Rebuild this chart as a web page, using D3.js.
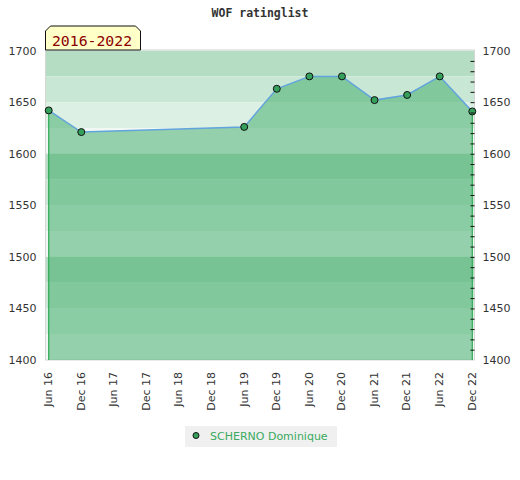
<!DOCTYPE html>
<html>
<head>
<meta charset="utf-8">
<script src="https://cdn.jsdelivr.net/npm/d3@7"></script>
<style>
  body { margin: 0; background: #fff; }
  svg { display: block; font-family: "DejaVu Sans", sans-serif; }
</style>
</head>
<body>
<svg id="chart"></svg>
<script>
// tick labels along the x axis (half-year steps)
var periods = ["Jun 16", "Dec 16", "Jun 17", "Dec 17", "Jun 18", "Dec 18", "Jun 19",
               "Dec 19", "Jun 20", "Dec 20", "Jun 21", "Dec 21", "Jun 22", "Dec 22"];

// periods that have a rating, and the rating
var ratedPeriods = ["Jun 16", "Dec 16", "Jun 19", "Dec 19", "Jun 20", "Dec 20",
                    "Jun 21", "Dec 21", "Jun 22", "Dec 22"];
var ratings = [1642, 1621, 1626, 1663, 1675, 1675, 1652, 1657, 1675, 1641];

var yTicks = [1400, 1450, 1500, 1550, 1600, 1650, 1700];
var playerName = "SCHERNO Dominique";
var chartTitle = "WOF ratinglist";
var rangeLabel = "2016-2022";

var width = 520, height = 480;
var plot = { left: 45.5, right: 474.5, top: 50, bottom: 360 };

var svg = d3.select("#chart")
    .attr("width", width)
    .attr("height", height);

var x = d3.scalePoint()
    .domain(periods)
    .range([48.7, 472.3]);

var y = d3.scaleLinear()
    .domain([1400, 1700])
    .range([plot.bottom, plot.top + 0.6]);

var data = ratedPeriods.map(function (p, i) {
    return { period: p, value: ratings[i] };
});

// striped background, 25 points per band
var bandColors = ["#b4ddc4", "#c9e7d5", "#ddf0e4", "#f2f9f4"];
var bandStarts = d3.range(1700, 1400, -25);

svg.append("g")
    .selectAll("rect")
    .data(bandStarts)
    .enter()
    .append("rect")
    .attr("x", plot.left)
    .attr("width", plot.right - plot.left)
    .attr("y", d => y(d))
    .attr("height", d => y(d - 25) - y(d))
    .attr("fill", (d, i) => bandColors[i % 4]);

svg.append("rect")
    .attr("x", plot.left)
    .attr("y", plot.top)
    .attr("width", plot.right - plot.left)
    .attr("height", plot.bottom - plot.top)
    .attr("fill", "none")
    .attr("stroke", "#d6d6d6")
    .attr("stroke-width", 1);

// area under the line
var area = d3.area()
    .x(d => x(d.period))
    .y0(y(1400))
    .y1(d => y(d.value));

svg.append("path")
    .datum(data)
    .attr("d", area)
    .attr("fill", "#41ac69")
    .attr("fill-opacity", 0.53);

// green edges at both ends of the area
var first = data[0], last = data[data.length - 1];
[first, last].forEach(function (d) {
    svg.append("line")
        .attr("x1", x(d.period)).attr("x2", x(d.period))
        .attr("y1", y(d.value)).attr("y2", y(1400))
        .attr("stroke", "#2eaa55")
        .attr("stroke-width", 1.2);
});

var line = d3.line()
    .x(d => x(d.period))
    .y(d => y(d.value));

svg.append("path")
    .datum(data)
    .attr("d", line)
    .attr("fill", "none")
    .attr("stroke", "#62a4dc")
    .attr("stroke-width", 1.5);

svg.append("g")
    .selectAll("circle")
    .data(data)
    .enter()
    .append("circle")
    .attr("cx", d => x(d.period))
    .attr("cy", d => y(d.value))
    .attr("r", 3.5)
    .attr("fill", "#35a05c")
    .attr("stroke", "#111")
    .attr("stroke-width", 1);

// minor ticks on the right edge
var minor = svg.append("g")
    .attr("transform", "translate(" + plot.right + ",0)")
    .call(d3.axisLeft(y)
        .tickValues(d3.range(1410, 1700, 10))
        .tickSize(4)
        .tickFormat(""));
minor.select(".domain").remove();
minor.selectAll("line").attr("stroke", "#111");

// value labels both sides
var fmt = d3.format("d");
var leftAxis = svg.append("g")
    .attr("transform", "translate(" + plot.left + ",0)")
    .call(d3.axisLeft(y).tickValues(yTicks).tickSize(0).tickPadding(9).tickFormat(fmt));
var rightAxis = svg.append("g")
    .attr("transform", "translate(" + plot.right + ",0)")
    .call(d3.axisRight(y).tickValues(yTicks).tickSize(0).tickPadding(8).tickFormat(fmt));
[leftAxis, rightAxis].forEach(function (a) {
    a.select(".domain").remove();
    a.selectAll("text")
        .attr("fill", "#333")
        .style("font-size", "11px")
        .style("font-family", "DejaVu Sans, sans-serif");
});

// rotated period labels
svg.append("g")
    .selectAll("text")
    .data(periods)
    .enter()
    .append("text")
    .attr("transform", d => "translate(" + (x(d) - 0.5) + ",372) rotate(-90)")
    .attr("text-anchor", "end")
    .attr("dy", "0.35em")
    .attr("fill", "#333")
    .style("font-size", "11px")
    .text(d => d);

// title
svg.append("text")
    .attr("x", 260)
    .attr("y", 17)
    .attr("text-anchor", "middle")
    .attr("fill", "#333")
    .style("font-family", "DejaVu Sans Mono, monospace")
    .style("font-weight", "bold")
    .style("font-size", "11.5px")
    .text(chartTitle);

// range badge
svg.append("path")
    .attr("d", "M45.5,50 L45.5,31 L50.5,26 L135.5,26 L140.5,31 L140.5,50 Z")
    .attr("fill", "#ffffc8")
    .attr("stroke", "#111")
    .attr("stroke-width", 1);
svg.append("text")
    .attr("x", 92)
    .attr("y", 45.5)
    .attr("text-anchor", "middle")
    .attr("fill", "#8b0000")
    .style("font-family", "DejaVu Sans Mono, monospace")
    .style("font-size", "14.8px")
    .text(rangeLabel);

// legend
var legend = svg.append("g");
legend.append("rect")
    .attr("x", 185)
    .attr("y", 426)
    .attr("width", 152)
    .attr("height", 21)
    .attr("fill", "#f0f0f0");
legend.append("circle")
    .attr("cx", 196)
    .attr("cy", 435.5)
    .attr("r", 3)
    .attr("fill", "#35a05c")
    .attr("stroke", "#111")
    .attr("stroke-width", 1);
legend.append("text")
    .attr("x", 210)
    .attr("y", 439.5)
    .attr("fill", "#3aaa60")
    .style("font-size", "11px")
    .text(playerName);
</script>
</body>
</html>
